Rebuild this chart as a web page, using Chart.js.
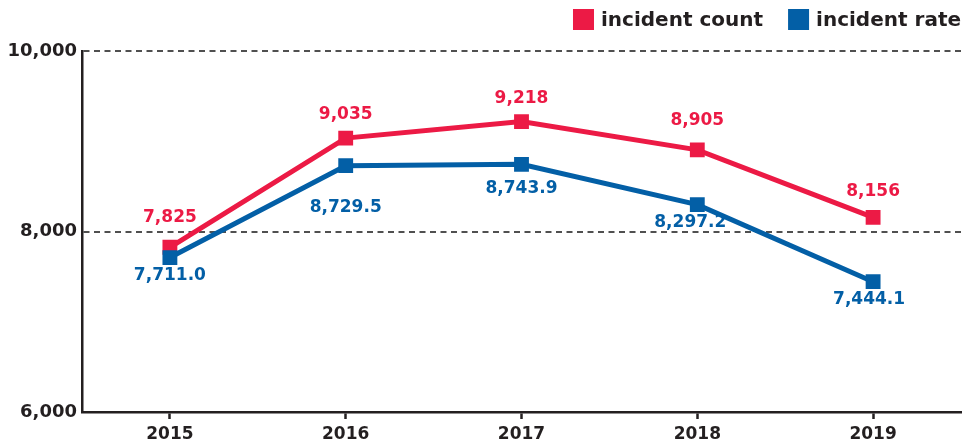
<!DOCTYPE html>
<html>
<head>
<meta charset="utf-8">
<script src="https://cdn.jsdelivr.net/npm/chart.js@4.4.0/dist/chart.umd.min.js"></script>
<style>
  html, body { margin: 0; padding: 0; background: #ffffff; }
  #wrap { width: 963px; height: 447px; }
</style>
</head>
<body>
<div id="wrap"><canvas id="c" width="963" height="447"></canvas></div>
<script>
// ---- data ----
const years = ['2015', '2016', '2017', '2018', '2019'];
const incidentCount = [7825, 9035, 9218, 8905, 8156];
const incidentRate = [7711.0, 8729.5, 8743.9, 8297.2, 7444.1];
const countLabels = ['7,825', '9,035', '9,218', '8,905', '8,156'];
const rateLabels = ['7,711.0', '8,729.5', '8,743.9', '8,297.2', '7,444.1'];
const yTicks = [6000, 8000, 10000];
const seriesNames = ['incident count', 'incident rate'];

// ---- style ----
const RED = '#ec1a45';
const BLUE = '#035fa6';
const DARK = '#231f20';
const FONT = '"DejaVu Sans", sans-serif';
const rateLabelDy = [18, 42, 24, 18, 18];
const rateLabelDx = [0, 0, 0, -7, -4];
const countLabelDy = [-30, -24, -23, -29, -26];

const dataLabelPlugin = {
  id: 'dataLabels',
  afterDatasetsDraw(chart) {
    const ctx = chart.ctx;
    ctx.save();
    ctx.font = 'bold 17px ' + FONT;
    ctx.textAlign = 'center';
    ctx.textBaseline = 'middle';
    chart.data.datasets.forEach((ds, di) => {
      const meta = chart.getDatasetMeta(di);
      meta.data.forEach((pt, i) => {
        ctx.fillStyle = ds.borderColor;
        if (ds.label === seriesNames[0]) {
          ctx.fillText(countLabels[i], pt.x, pt.y + countLabelDy[i]);
        } else {
          ctx.fillText(rateLabels[i], pt.x + rateLabelDx[i], pt.y + rateLabelDy[i]);
        }
      });
    });
    ctx.restore();
  }
};

const legendPlugin = {
  id: 'customLegend',
  afterDraw(chart) {
    const ctx = chart.ctx;
    ctx.save();
    ctx.font = 'bold 20px ' + FONT;
    ctx.textBaseline = 'middle';
    ctx.textAlign = 'left';
    const items = [
      { text: seriesNames[0], color: RED },
      { text: seriesNames[1], color: BLUE }
    ];
    const box = 21, gapText = 7, gapItem = 25;
    let total = 0;
    items.forEach((it, k) => {
      it.w = ctx.measureText(it.text).width;
      total += box + gapText + it.w + (k < items.length - 1 ? gapItem : 0);
    });
    let x = 961 - total;
    const yTop = 9;
    items.forEach(it => {
      ctx.fillStyle = it.color;
      ctx.fillRect(x, yTop, box, box);
      ctx.fillStyle = DARK;
      ctx.fillText(it.text, x + box + gapText, yTop + box / 2 + 1);
      x += box + gapText + it.w + gapItem;
    });
    ctx.restore();
  }
};

new Chart(document.getElementById('c'), {
  type: 'line',
  data: {
    labels: years,
    datasets: [
      {
        label: seriesNames[1],
        data: incidentRate,
        borderColor: BLUE,
        backgroundColor: BLUE,
        borderWidth: 5,
        pointStyle: 'rect',
        pointRadius: 10.5,
        pointBorderWidth: 0,
        pointHoverRadius: 10.5,
        tension: 0,
        fill: false
      },
      {
        label: seriesNames[0],
        data: incidentCount,
        borderColor: RED,
        backgroundColor: RED,
        borderWidth: 5,
        pointStyle: 'rect',
        pointRadius: 10.5,
        pointBorderWidth: 0,
        pointHoverRadius: 10.5,
        tension: 0,
        fill: false
      }
    ]
  },
  options: {
    responsive: false,
    animation: false,
    events: [],
    layout: { padding: { top: 51, right: 2, left: 0, bottom: 0 }, autoPadding: false },
    plugins: {
      legend: { display: false },
      tooltip: { enabled: false },
      title: { display: false }
    },
    scales: {
      x: {
        type: 'category',
        offset: true,
        afterFit: s => { s.height = 35; },
        grid: {
          display: true,
          drawOnChartArea: false,
          drawTicks: true,
          tickLength: 7,
          tickWidth: 2.5,
          tickColor: DARK,
          offset: false
        },
        border: { display: true, color: DARK, width: 2.5 },
        ticks: {
          color: DARK,
          font: { family: FONT, size: 17, weight: 'bold' },
          padding: 5,
          maxRotation: 0
        }
      },
      y: {
        min: 6000,
        max: 10000,
        afterFit: s => { s.width = 82; },
        afterBuildTicks: s => { s.ticks = yTicks.map(v => ({ value: v })); },
        grid: {
          drawTicks: false,
          color: c => (c.tick && c.tick.value === 6000 ? 'rgba(0,0,0,0)' : '#505050'),
          lineWidth: 2,
          borderDash: [6, 4.5]
        },
        border: { display: true, color: DARK, width: 2.5, dash: [6, 4.5] },
        ticks: {
          color: DARK,
          font: { family: FONT, size: 18, weight: 'bold' },
          padding: 5,
          callback: v => v.toLocaleString('en-US')
        }
      }
    }
  },
  plugins: [dataLabelPlugin, legendPlugin]
});
</script>
</body>
</html>
